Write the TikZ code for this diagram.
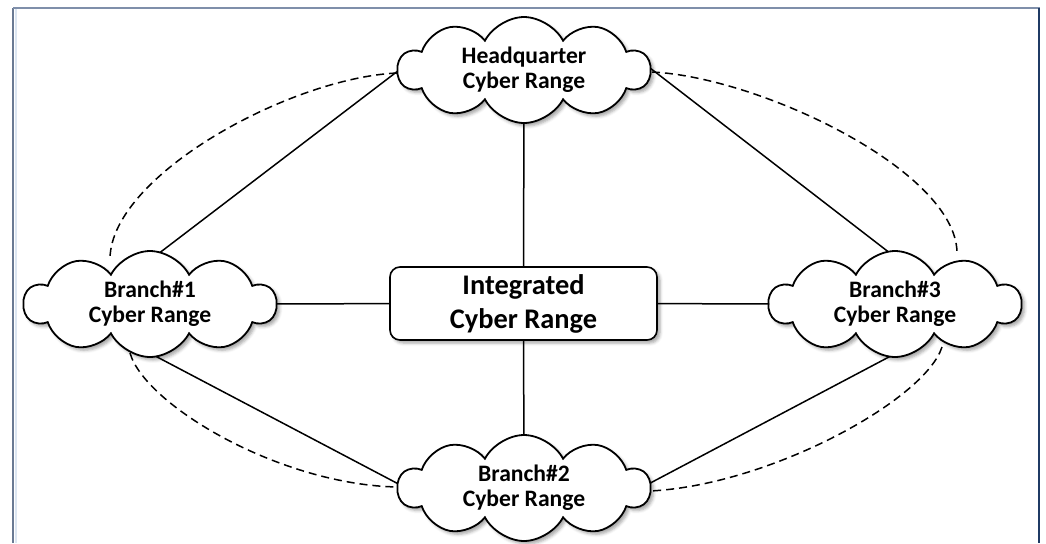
\documentclass[tikz,border=0pt]{standalone}
\usepackage{fontspec}
\setmainfont{Carlito}
\usetikzlibrary{shapes.symbols,shadows.blur,calc,backgrounds}

\definecolor{frameTop}{HTML}{7F8FAA}
\definecolor{frameSide}{HTML}{1F3A64}
\definecolor{frameLeft}{HTML}{6A7A94}
\definecolor{frameTint}{HTML}{DCE6F2}

\begin{document}
\begin{tikzpicture}[x=0.5pt,y=-0.5pt,
  site/.style={cloud, cloud puffs=10, cloud puff arc=125, cloud ignores aspect,
    draw=black, line width=0.9pt, fill=white,
    minimum width=126pt, minimum height=53pt, inner sep=0pt,
    align=center, font=\bfseries\fontsize{11.8}{12.5}\selectfont,
    blur shadow={shadow xshift=1.5pt, shadow yshift=-1.5pt, shadow opacity=35, shadow blur radius=1.5pt}},
  hub/.style={rectangle, rounded corners=5pt, draw=black, line width=0.8pt, fill=white,
    minimum width=133.5pt, minimum height=36.5pt, inner sep=0pt,
    align=center, font=\bfseries\fontsize{14.2}{17}\selectfont,
    blur shadow={shadow xshift=1.5pt, shadow yshift=-1.5pt, shadow opacity=35, shadow blur radius=1.5pt}},
  link/.style={line width=0.75pt, line cap=round},
  ring/.style={line width=0.75pt, dash pattern=on 4pt off 2.5pt},
]
\useasboundingbox (0,0) rectangle (1046,543);

% page frame
\draw[frameTint, line width=1pt] (15.5,9) -- (15.5,543);
\draw[frameLeft, line width=1pt] (13,8) -- (13,543);
\draw[frameTop, line width=1pt] (13,8) -- (1040,8);
\draw[frameSide, line width=1.3pt] (1039,8) -- (1039,543);

% sites and the integrated range
\node[site] (hq) at (524,70)  {Headquarter\\Cyber Range};
\node[site] (b1) at (150,304) {Branch\#1\\Cyber Range};
\node[site] (b3) at (895,304) {Branch\#3\\Cyber Range};
\node[site] (b2) at (524,488) {Branch\#2\\Cyber Range};
\node[hub] (icr) at (523.5,303.5) {Integrated\\Cyber Range};

\begin{scope}[on background layer]
  % links to the integrated range
  \draw[link] (hq.center) -- (icr.center);
  \draw[link] (icr.center) -- (b2.center);
  \draw[link] (b1.center) -- (icr.center);
  \draw[link] (icr.center) -- (b3.center);
  % links between sites
  \draw[link] ($(hq)+(-117,-6)$) -- ($(b1)+(-9,-37)$);
  \draw[link] ($(hq)+(117,-9)$) -- ($(b3)+(13,-37)$);
  \draw[link] ($(b1)+(-8,45)$) -- ($(b2)+(-116,1)$);
  \draw[link] ($(b3)+(9,45)$) -- ($(b2)+(115,1)$);
  % dashed outer ring
  \draw[ring] ($(hq)+(-127,3)$) .. controls +(-107,5) and +(2,-83) .. ($(b1)+(-40,-46)$);
  \draw[ring] ($(hq)+(128,2)$) .. controls +(107,5) and +(-2,-82) .. ($(b3)+(62,-52)$);
  \draw[ring] ($(b1)+(-20,49)$) .. controls +(15,52) and +(-118,-2) .. ($(b2)+(-126,-1)$);
  \draw[ring] ($(b3)+(47,43)$) .. controls +(-17,53) and +(120,-6) .. ($(b2)+(126,3)$);
\end{scope}
\end{tikzpicture}
\end{document}
